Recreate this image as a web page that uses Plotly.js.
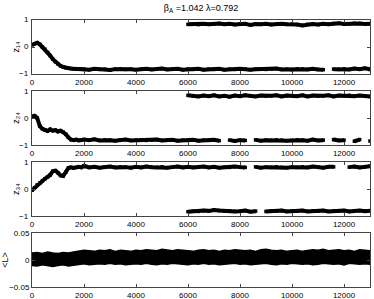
<!DOCTYPE html>
<html><head><meta charset="utf-8">
<script src="https://cdn.plot.ly/plotly-3.0.1.min.js"></script>
<style>html,body{margin:0;padding:0;background:#fff}#c{width:374px;height:299px}</style>
</head><body><div id="c"></div>
<script>
// ---- data ----
var titleText = "β<sub>A</sub> =1.042 λ=0.792";
var yLabels = ["z\u2081\u2084", "z\u2082\u2084", "z\u2083\u2084", "&lt;L&gt;"];
var xTicks = [0, 2000, 4000, 6000, 8000, 10000, 12000];
var xTickText = ["0", "2000", "4000", "6000", "8000", "10000", "12000"];
var zTicks = [-1, 0, 1];
var zTickText = ["\u22121", "0", "1"];
var LTicks = [-0.05, 0, 0.05];

// early part: steps 0..1900 every 100; late part: 2000..13000 every 200; second branch: 6000..13000 every 200
var z14Early = [0.08,0.12,0.16,0.1,0.0,-0.08,-0.2,-0.32,-0.45,-0.55,-0.63,-0.7,-0.74,-0.77,-0.79,-0.8,-0.81,-0.82,-0.81,-0.82];
var z14Late = [-0.82,-0.84,-0.81,-0.83,-0.82,-0.85,-0.82,-0.81,-0.83,-0.82,-0.84,-0.82,-0.81,-0.83,-0.82,-0.80,-0.83,-0.82,-0.81,-0.84,
  -0.82,-0.83,-0.81,-0.84,-0.82,-0.83,-0.81,-0.84,-0.82,-0.83,-0.81,-0.82,-0.84,-0.82,-0.81,-0.83,-0.82,-0.80,-0.83,-0.82,-0.84,-0.81,-0.82,-0.83,-0.81,-0.83,-0.84,null,-0.82,-0.83,-0.81,-0.83,-0.80,-0.82,-0.79,-0.83];
var z14Branch = [0.84,0.85,0.83,0.86,0.84,0.85,0.87,0.84,0.86,0.83,0.85,0.86,0.82,0.85,0.84,0.86,0.83,0.85,0.86,0.84,0.85,0.83,0.80,0.84,0.85,0.83,0.86,0.84,0.87,0.88,0.85,0.86,0.88,0.87,0.85,0.86];

var z24Early = [0.05,0.08,0.0,-0.3,-0.4,-0.45,-0.48,-0.42,-0.47,-0.45,-0.5,-0.47,-0.52,-0.6,-0.72,-0.8,-0.82,-0.8,-0.83,-0.82];
var z24Late = [-0.8,-0.82,-0.79,-0.83,-0.81,-0.82,-0.84,-0.81,-0.8,-0.83,-0.82,-0.81,-0.83,-0.82,-0.8,-0.83,-0.82,-0.81,-0.84,-0.82,
  -0.83,-0.81,-0.84,-0.82,-0.83,-0.81,-0.84,null,-0.82,-0.85,-0.82,-0.83,null,-0.81,-0.84,-0.82,-0.83,-0.81,-0.82,-0.84,-0.83,-0.81,-0.82,-0.84,-0.8,-0.83,-0.82,null,-0.8,-0.83,-0.82,null,-0.86,-0.8,null,-0.85];
var z24Branch = [0.84,0.82,0.8,0.83,0.81,0.84,0.8,0.82,0.79,0.83,0.81,0.84,0.82,0.8,0.83,0.81,0.82,0.84,0.8,0.83,0.82,0.81,0.84,0.8,0.83,0.81,0.82,0.84,0.8,0.83,0.82,0.84,0.81,0.83,0.82,0.8];

var z34Early = [-0.05,0.05,0.15,0.22,0.3,0.38,0.45,0.52,0.66,0.68,0.6,0.5,0.48,0.62,0.78,0.8,0.78,0.8,0.82,0.8];
var z34Late = [0.86,0.8,0.82,0.79,0.81,0.83,0.8,0.82,0.81,0.79,0.82,0.8,0.83,0.81,0.8,0.82,0.79,0.81,0.83,0.8,
  0.82,0.8,0.81,0.83,0.8,0.82,0.79,0.81,0.8,0.83,0.81,0.8,null,0.82,0.79,0.81,0.8,0.82,0.8,0.79,0.81,0.8,0.82,0.8,0.83,0.81,0.79,0.82,0.82,null,null,0.81,0.83,0.8,0.82,0.84];
var z34Branch = [-0.84,-0.82,-0.83,-0.8,-0.81,-0.78,-0.8,-0.82,-0.81,-0.83,-0.82,-0.8,-0.84,-0.82,null,-0.83,-0.81,-0.82,-0.8,-0.83,-0.81,-0.82,-0.8,-0.83,-0.81,-0.82,-0.8,-0.83,-0.81,-0.82,-0.8,-0.83,-0.81,-0.8,-0.82,-0.81];

// <L>: band envelope, steps 0..13000 every 200
var LUpper = [0.013,0.014,0.012,0.015,0.013,0.012,0.014,0.013,0.015,0.016,0.018,0.017,0.016,0.018,0.017,0.019,0.016,0.018,0.017,0.016,0.018,0.017,0.019,0.018,0.017,0.02,0.018,0.017,0.019,0.018,0.017,0.016,0.018,0.019,0.017,0.018,0.016,0.018,0.017,0.019,0.018,0.017,0.018,0.016,0.019,0.02,0.018,0.017,0.018,0.016,0.017,0.018,0.016,0.017,0.019,0.018,0.02,0.017,0.018,0.019,0.017,0.018,0.016,0.019,0.018,0.017];
var LLower = [-0.01,-0.011,-0.009,-0.01,-0.012,-0.01,-0.009,-0.011,-0.01,-0.008,-0.007,-0.009,-0.008,-0.007,-0.008,-0.006,-0.008,-0.007,-0.009,-0.008,-0.007,-0.008,-0.006,-0.008,-0.009,-0.007,-0.008,-0.006,-0.007,-0.008,-0.009,-0.007,-0.008,-0.006,-0.008,-0.007,-0.009,-0.008,-0.007,-0.006,-0.008,-0.007,-0.009,-0.008,-0.007,-0.006,-0.008,-0.009,-0.007,-0.008,-0.006,-0.007,-0.008,-0.007,-0.009,-0.008,-0.006,-0.007,-0.008,-0.007,-0.009,-0.006,-0.007,-0.008,-0.007,-0.008];

// ---- build ----
function steps(n, start, step){ var a=[]; for(var i=0;i<n;i++) a.push(start+i*step); return a; }
function mainX(early, late){ return steps(early.length,0,100).concat(steps(late.length,2000,200)); }

var traces = [];
function band(x, y, ax){
  traces.push({x:x, y:y, xaxis:'x'+ax, yaxis:'y'+ax, type:'scatter', mode:'lines+markers',
    line:{color:'#000', width:4}, marker:{color:'#000', size:3.5, symbol:'square'}, connectgaps:false, hoverinfo:'skip'});
}
band(mainX(z14Early,z14Late), z14Early.concat(z14Late), '');
band(steps(z14Branch.length,6000,200), z14Branch, '');
band(mainX(z24Early,z24Late), z24Early.concat(z24Late), '2');
band(steps(z24Branch.length,6000,200), z24Branch, '2');
band(mainX(z34Early,z34Late), z34Early.concat(z34Late), '3');
band(steps(z34Branch.length,6000,200), z34Branch, '3');
var lx = steps(LUpper.length,0,200);
traces.push({x:lx, y:LLower, xaxis:'x4', yaxis:'y4', type:'scatter', mode:'lines', line:{color:'#000', width:1.5}, hoverinfo:'skip'});
traces.push({x:lx, y:LUpper, xaxis:'x4', yaxis:'y4', type:'scatter', mode:'lines', fill:'tonexty', fillcolor:'#000', line:{color:'#000', width:1.5}, hoverinfo:'skip'});

var FAM = 'Liberation Sans, DejaVu Sans, Arial, sans-serif';
function f(s){ return {family:FAM, size:s, color:'#000'}; }
var tops = [20, 91, 162, 233], h = 54;
var layout = {width:374, height:299, margin:{l:0,r:0,t:0,b:0}, showlegend:false, font:f(8),
  title:{text:titleText, font:f(9), x:201/374, xanchor:'center', y:1-8/299, yanchor:'middle'},
  annotations:[]};
var ax = ['', '2', '3', '4'];
for (var i=0;i<4;i++){
  var dom = [1-(tops[i]+h)/299, 1-tops[i]/299];
  var isL = (i===3);
  layout['xaxis'+ax[i]] = {domain:[32/374, 370/374], range:[0,13000], anchor:'y'+ax[i],
    tickmode:'array', tickvals:xTicks, ticktext:xTickText,
    ticks:'inside', ticklen:3, showline:true, mirror:'ticks', showgrid:false, zeroline:false, tickfont:f(8)};
  layout['yaxis'+ax[i]] = {domain:dom, range: isL?[-0.05,0.05]:[-1,1], anchor:'x'+ax[i],
    tickmode:'array', tickvals: isL?LTicks:zTicks, showticklabels: isL,
    ticks:'inside', ticklen:3, showline:true, mirror:'ticks', showgrid:false, zeroline:false, tickfont:f(8),
    title:{text:yLabels[i], font:f(9), standoff: isL?3:9}};
  if (!isL) {
    // tick labels for the z panels, placed by the panel's own y scale
    for (var k=0;k<zTicks.length;k++){
      layout.annotations.push({xref:'x'+ax[i]+' domain', yref:'y'+ax[i], x:0, y:zTicks[k], text:zTickText[k],
        showarrow:false, xanchor:'right', yanchor:'middle', xshift:-1, font:f(8)});
    }
  }
}
Plotly.newPlot('c', traces, layout, {staticPlot:true});
</script></body></html>
